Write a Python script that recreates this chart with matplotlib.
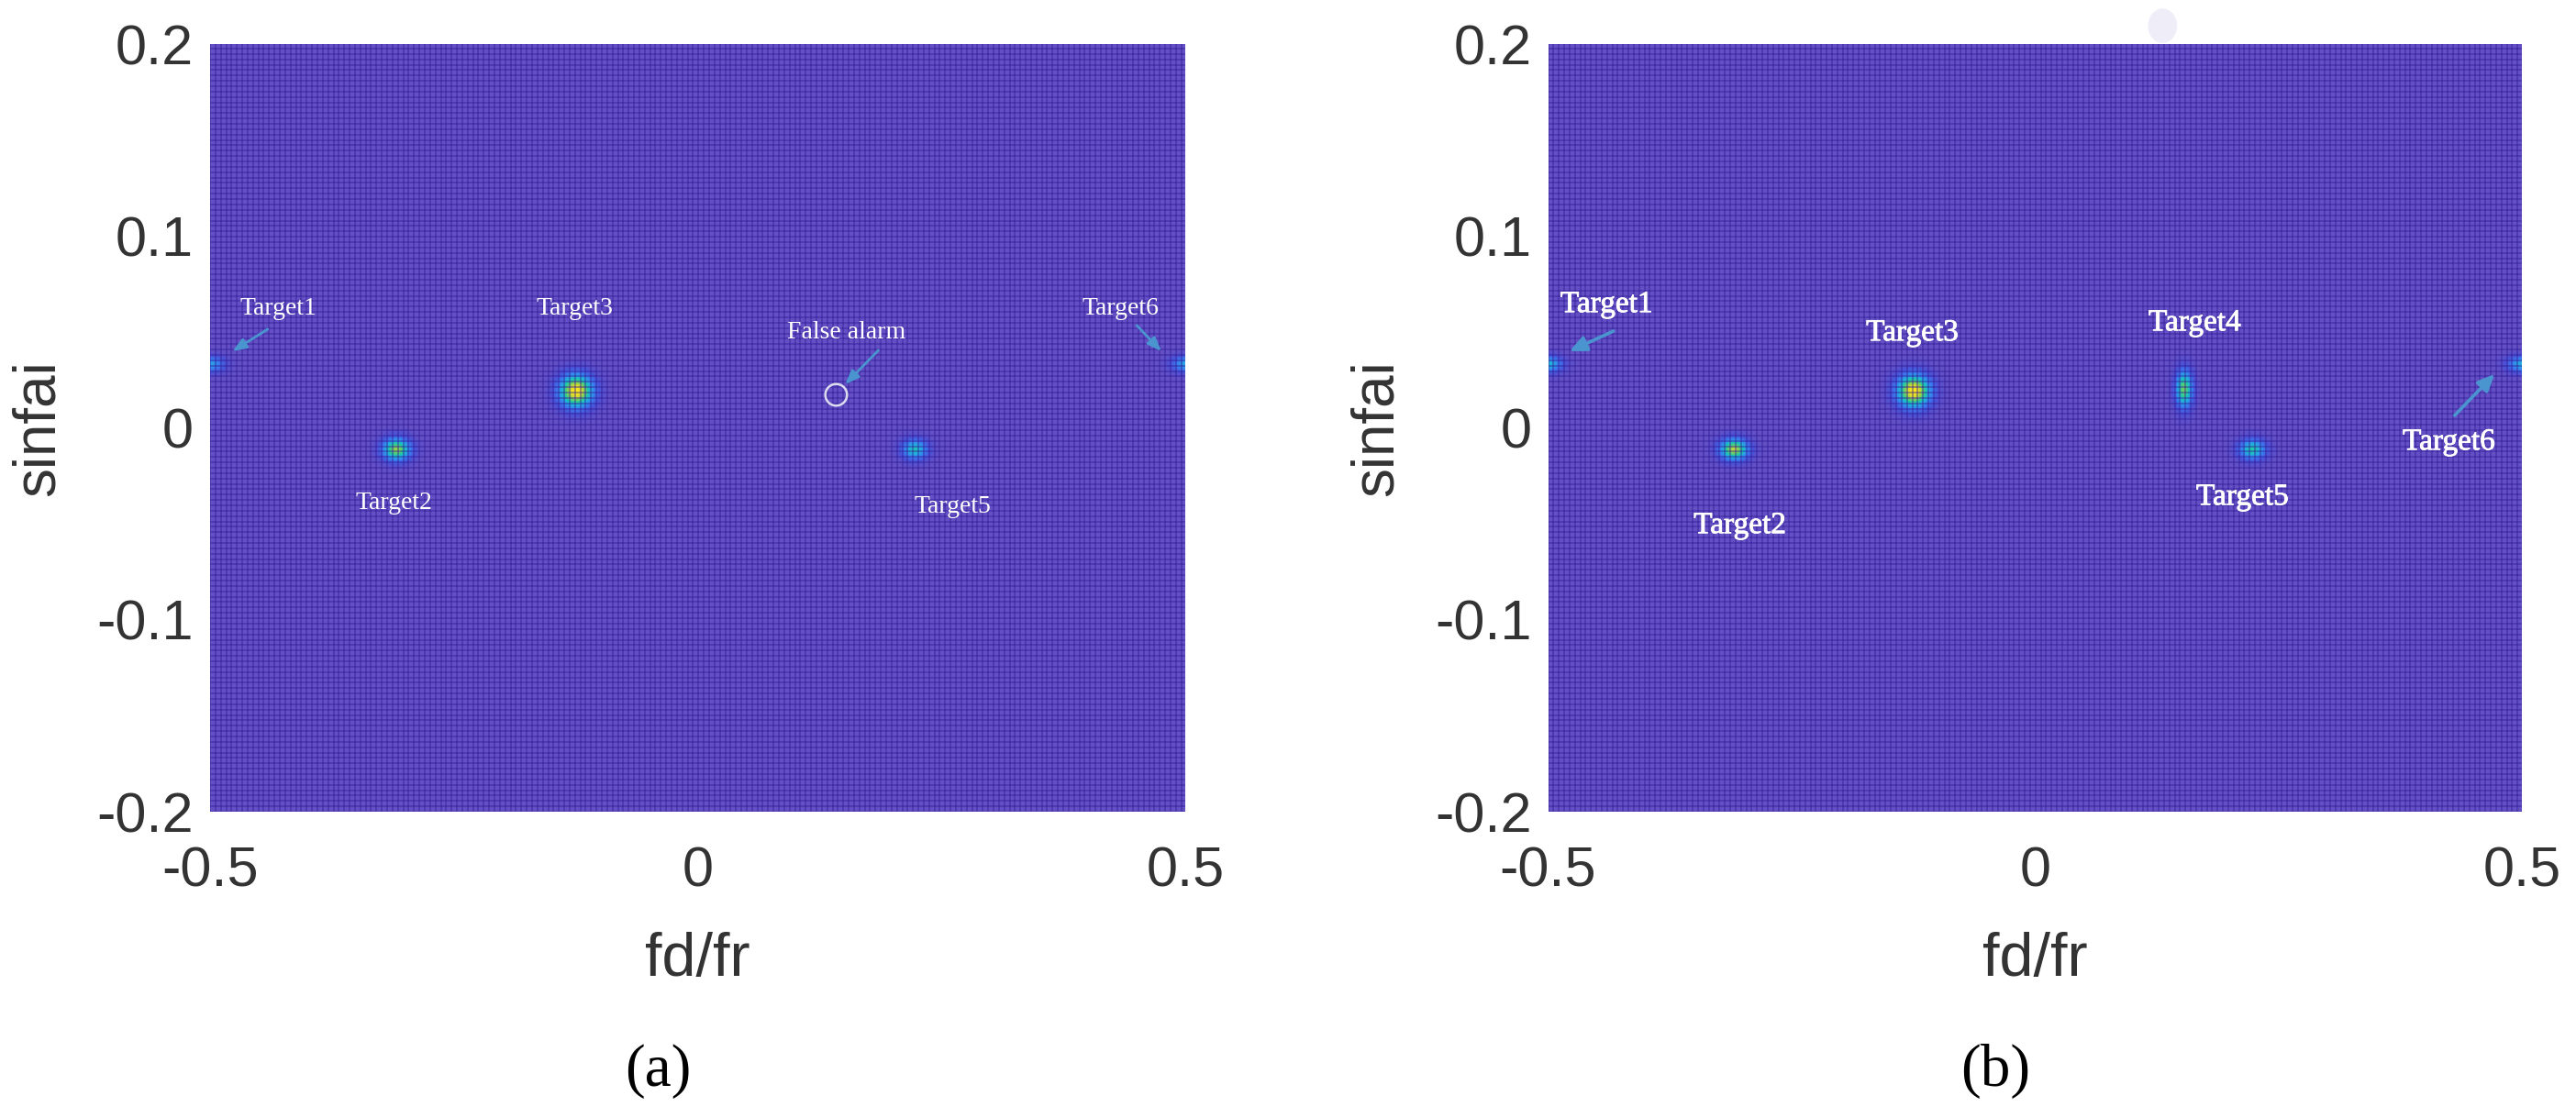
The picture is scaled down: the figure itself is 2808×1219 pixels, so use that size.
import numpy as np
import matplotlib
matplotlib.use("Agg")
import matplotlib.pyplot as plt
import matplotlib.patheffects as pe
from matplotlib.colors import LinearSegmentedColormap
from matplotlib.patches import Ellipse

# Spot estimates: fd/fr, sinfai, peak level, half-extent in fd/fr, half-extent in sinfai
names_a = ["Target1", "Target2", "Target3", "Target5", "Target6"]
fd_a = [-0.5, -0.309, -0.125, 0.222, 0.5]
sf_a = [0.033, -0.011, 0.019, -0.011, 0.033]
amp_a = [0.40, 0.80, 1.00, 0.55, 0.42]
wx_a = [0.0105, 0.0100, 0.0120, 0.0092, 0.0105]
wy_a = [0.0030, 0.0040, 0.0060, 0.0037, 0.0030]

names_b = ["Target1", "Target2", "Target3", "Target4", "Target5", "Target6"]
fd_b = [-0.5, -0.309, -0.125, 0.153, 0.223, 0.5]
sf_b = [0.033, -0.011, 0.019, 0.020, -0.011, 0.033]
amp_b = [0.50, 0.85, 1.00, 0.75, 0.60, 0.45]
wx_b = [0.0105, 0.0100, 0.0120, 0.0060, 0.0095, 0.0105]
wy_b = [0.0030, 0.0038, 0.0060, 0.0068, 0.0037, 0.0030]

# Annotation labels: text, text x, text y
label_a = ["Target1", "Target2", "Target3", "Target5", "Target6", "False alarm"]
label_ax = [-0.430, -0.312, -0.126, 0.261, 0.433, 0.152]
label_ay = [0.0619, -0.039, 0.0619, -0.0413, 0.0619, 0.0495]
label_b = ["Target1", "Target2", "Target3", "Target4", "Target5", "Target6"]
label_bx = [-0.440, -0.303, -0.126, 0.164, 0.213, 0.425]
label_by = [0.0643, -0.0509, 0.0495, 0.0547, -0.0361, -0.0074]

# Arrows: tail x, tail y, head x, head y
arrows_a = [(-0.441, 0.0514, -0.477, 0.0399),
            (0.185, 0.0404, 0.151, 0.0227),
            (0.450, 0.0533, 0.475, 0.0399)]
arrows_b = [(-0.433, 0.0504, -0.478, 0.0399),
            (0.431, 0.0065, 0.472, 0.028)]

false_alarm = (0.141, 0.0175)

xticks = [-0.5, 0, 0.5]
xticklabels = ["-0.5", "0", "0.5"]
yticks = [-0.2, -0.1, 0, 0.1, 0.2]
yticklabels = ["-0.2", "-0.1", "0", "0.1", "0.2"]

W, H = 2808, 1219
cmap = LinearSegmentedColormap.from_list("parulaish", [
    (0.00, "#6450c4"), (0.12, "#4a52d8"), (0.28, "#3a7cf0"), (0.45, "#22aee0"),
    (0.60, "#1ccaa8"), (0.75, "#70d060"), (0.90, "#e0dc28"), (1.00, "#fbe81a")])


def field(fd, sf, amp, wx, wy):
    x = np.linspace(-0.5, 0.5, 533)
    y = np.linspace(-0.2, 0.2, 419)
    X, Y = np.meshgrid(x, y)
    Z = np.zeros_like(X)
    for a, b, c, d, e in zip(fd, sf, amp, wx, wy):
        Z = np.maximum(Z, c * np.exp(-0.5 * (((X - a) / d) ** 2 + ((Y - b) / e) ** 2)))
    return x, y, Z


def panel(box, fd, sf, amp, wx, wy, labels, lx, ly, fs, stroke, arrows, head, alw):
    ax = fig.add_axes(box)
    x, y, Z = field(fd, sf, amp, wx, wy)
    ax.pcolormesh(x, y, Z, cmap=cmap, vmin=0, vmax=1, shading="auto", rasterized=True)
    ax.vlines(np.arange(-0.5, 0.5, 0.0055), -0.2, 0.2, color="#2f1a96", alpha=0.42, lw=1.4)
    ax.hlines(np.arange(-0.2, 0.2, 0.0028), -0.5, 0.5, color="#2f1a96", alpha=0.42, lw=1.4)
    ax.set_xlim(-0.5, 0.5)
    ax.set_ylim(-0.2, 0.2)
    ax.set_xticks(xticks, xticklabels)
    ax.set_yticks(yticks, yticklabels)
    ax.tick_params(length=0, labelsize=44, labelcolor="#333333", pad=0)
    ax.tick_params(axis="x", pad=27)
    ax.tick_params(axis="y", pad=13)
    ax.set_xlabel("fd/fr", fontsize=48, color="#333333", labelpad=26)
    ax.set_ylabel("sinfai", fontsize=46, color="#333333", labelpad=24)
    for s in ax.spines.values():
        s.set_visible(False)
    for t, a, b in zip(labels, lx, ly):
        txt = ax.text(a, b, t, color="white", fontsize=fs, ha="center", va="center",
                      family="Liberation Serif")
        if stroke:
            txt.set_path_effects([pe.withStroke(linewidth=stroke, foreground="white")])
    for a, b, c, d in arrows:
        ax.annotate("", xy=(c, d), xytext=(a, b),
                    arrowprops=dict(arrowstyle=head, color="#4a95d0", lw=alw, shrinkA=0, shrinkB=0))
    return ax


fig = plt.figure(figsize=(W / 100, (H + 0.01) / 100), dpi=100, facecolor="white")
plt.rcParams["font.family"] = ["Liberation Sans", "DejaVu Sans"]

top, bottom = 48, 885
box_a = [229 / W, 1 - bottom / H, (1292.5 - 229) / W, (bottom - top) / H]
box_b = [1687.5 / W, 1 - bottom / H, (2749 - 1687.5) / W, (bottom - top) / H]

ax_a = panel(box_a, fd_a, sf_a, amp_a, wx_a, wy_a, label_a, label_ax, label_ay, 20, 0,
             arrows_a, "-|>,head_length=0.9,head_width=0.35", 2.0)
ax_a.plot(*false_alarm, marker="o", ms=17, mfc="none", mec="#dcdcf0", mew=1.8, ls="none")

ax_b = panel(box_b, fd_b, sf_b, amp_b, wx_b, wy_b, label_b, label_bx, label_by, 24, 0.6,
             arrows_b, "-|>,head_length=1.1,head_width=0.5", 2.6)
ax_b.add_patch(Ellipse((0.131, 0.2095), 0.03, 0.018, color="#efeef8", clip_on=False, lw=0))

fig.text(717 / W, 1 - 1168 / H, "(a)", fontsize=47, family="Liberation Serif", ha="center", va="center", color="black")
fig.text(2175 / W, 1 - 1168 / H, "(b)", fontsize=47, family="Liberation Serif", ha="center", va="center", color="black")

fig.savefig("out.png", dpi=100, facecolor="white")
